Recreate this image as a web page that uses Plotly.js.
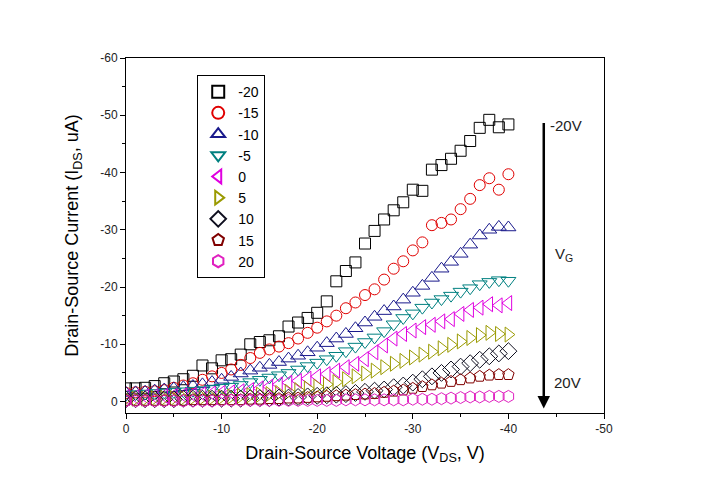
<!DOCTYPE html>
<html><head><meta charset="utf-8">
<script src="https://cdn.plot.ly/plotly-3.0.1.min.js"></script>
<style>html,body{margin:0;padding:0;background:#fff}#chart{width:702px;height:496px}</style>
</head><body><div id="chart"></div>
<script>
const vds = [0,-1,-2,-3,-4,-5,-6,-7,-8,-9,-10,-11,-12,-13,-14,-15,-16,-17,-18,-19,-20,-21,-22,-23,-24,-25,-26,-27,-28,-29,-30,-31,-32,-33,-34,-35,-36,-37,-38,-39,-40];
const gateLabels = ['-20','-15','-10','-5','0','5','10','15','20'];
const idsM20 = [-2.3,-2.3,-2.4,-2.7,-3.2,-3.5,-3.9,-4.5,-6.3,-5.8,-7.2,-7.4,-8.2,-10.0,-10.4,-10.7,-11.4,-13.1,-13.8,-14.6,-15.5,-17.5,-21.0,-22.8,-24.3,-27.6,-29.8,-31.8,-33.4,-34.8,-37.0,-36.8,-40.5,-41.3,-42.4,-43.8,-45.5,-47.8,-49.2,-47.9,-48.4];
const idsM15 = [-1.5,-1.6,-1.7,-1.8,-2.0,-2.4,-2.8,-3.2,-3.8,-4.4,-5.0,-5.6,-6.4,-7.6,-8.5,-9.1,-9.6,-10.2,-11.0,-12.0,-12.9,-14.0,-15.0,-16.3,-17.3,-18.6,-19.6,-21.3,-23.2,-24.5,-26.4,-27.8,-30.8,-31.2,-31.8,-33.6,-35.4,-37.8,-39.0,-37.0,-39.7];
const idsM10 = [-1.5,-1.6,-1.7,-1.9,-2.1,-2.3,-2.5,-2.7,-3.0,-3.4,-3.8,-4.3,-4.9,-5.4,-5.9,-6.4,-6.9,-7.5,-8.0,-8.6,-9.4,-10.2,-11.0,-11.8,-12.8,-13.8,-14.8,-15.8,-16.6,-17.8,-19.0,-20.2,-21.6,-23.2,-24.4,-25.8,-27.4,-29.0,-30.0,-30.5,-30.4];
const idsM5 = [-1.2,-1.3,-1.4,-1.5,-1.6,-1.7,-1.8,-1.9,-2.0,-2.2,-2.4,-2.6,-2.9,-3.4,-3.8,-4.2,-4.6,-5.0,-5.6,-6.2,-6.8,-7.4,-8.0,-8.8,-9.6,-10.4,-11.2,-12.3,-13.5,-14.6,-15.4,-16.4,-17.3,-17.9,-18.5,-19.2,-19.8,-20.5,-20.9,-21.2,-21.1];
const ids0 = [-0.8,-0.8,-0.9,-0.9,-1.0,-1.0,-1.1,-1.2,-1.3,-1.4,-1.5,-1.6,-1.8,-2.0,-2.3,-2.6,-3.0,-3.3,-3.6,-4.0,-4.4,-4.8,-5.4,-6.0,-6.6,-7.4,-8.6,-9.8,-11.0,-11.8,-12.4,-13.0,-13.4,-14.0,-14.4,-15.3,-16.0,-16.4,-17.0,-16.8,-17.2];
const idsP5 = [-0.5,-0.5,-0.5,-0.6,-0.6,-0.6,-0.6,-0.7,-0.7,-0.7,-0.8,-0.9,-1.0,-1.1,-1.2,-1.3,-1.5,-1.7,-2.0,-2.3,-2.6,-3.0,-3.4,-3.9,-4.4,-4.9,-5.4,-6.0,-6.6,-7.1,-7.7,-8.2,-8.7,-9.3,-9.9,-10.5,-11.1,-11.6,-12.0,-11.8,-11.7];
const idsP10 = [-0.4,-0.4,-0.4,-0.4,-0.4,-0.4,-0.5,-0.5,-0.5,-0.5,-0.5,-0.5,-0.5,-0.6,-0.6,-0.6,-0.7,-0.7,-0.8,-0.9,-1.0,-1.1,-1.2,-1.3,-1.5,-1.7,-1.9,-2.1,-2.5,-2.8,-3.3,-3.9,-4.4,-5.0,-5.6,-6.1,-6.7,-7.3,-7.9,-8.4,-8.8];
const idsP15 = [-0.2,-0.2,-0.2,-0.2,-0.2,-0.2,-0.2,-0.3,-0.3,-0.3,-0.3,-0.3,-0.3,-0.4,-0.4,-0.5,-0.5,-0.6,-0.6,-0.7,-0.8,-0.9,-1.0,-1.1,-1.2,-1.3,-1.4,-1.6,-1.8,-2.0,-2.3,-2.6,-2.9,-3.2,-3.5,-3.8,-4.1,-4.4,-4.6,-4.7,-4.7];
const idsP20 = [-0.1,-0.1,-0.1,-0.1,-0.1,-0.1,-0.1,-0.1,-0.1,-0.1,-0.2,-0.2,-0.2,-0.2,-0.2,-0.2,-0.2,-0.2,-0.2,-0.2,-0.2,-0.2,-0.2,-0.3,-0.3,-0.3,-0.3,-0.3,-0.3,-0.3,-0.4,-0.4,-0.4,-0.5,-0.6,-0.7,-0.8,-0.8,-0.9,-0.9,-0.9];
const xTickVals = [0,-10,-20,-30,-40,-50];
const xTickText = ['0','-10','-20','-30','-40','-50'];
const yTickVals = [0,-10,-20,-30,-40,-50,-60];
const yTickText = ['0','-10','-20','-30','-40','-50','-60'];

const seriesY = [idsM20, idsM15, idsM10, idsM5, ids0, idsP5, idsP10, idsP15, idsP20];
const symbols = ['square-open','circle-open','triangle-up-open','triangle-down-open','triangle-left-open','triangle-right-open','diamond-open','pentagon-open','hexagon-open'];
const colors = ['#000000','#e00000','#1a1a8c','#008080','#e000e0','#9a9a00','#101020','#800000','#e020c0'];
const sizes = [11, 11, 13, 13, 13, 13, 13, 12, 12];

const traces = seriesY.map((ys, i) => ({
  x: vds, y: ys, name: gateLabels[i], type: 'scatter', mode: 'markers',
  marker: {symbol: symbols[i], size: sizes[i], color: colors[i], line: {width: 1, color: colors[i]}}
}));

const axisFont = {family: 'Arial, Liberation Sans, sans-serif', size: 12, color: '#222'};
const layout = {
  width: 702, height: 496,
  margin: {l: 126, r: 98, t: 58, b: 83},
  paper_bgcolor: '#fff', plot_bgcolor: '#fff',
  showlegend: true,
  legend: {x: 0.149, y: 0.952, xanchor: 'left', yanchor: 'top', bgcolor: '#fff',
    bordercolor: '#000', borderwidth: 1, itemsizing: 'constant',
    font: {family: 'Arial, Liberation Sans, sans-serif', size: 14, color: '#000'}},
  xaxis: {range: [0, -50], tickvals: xTickVals, ticktext: xTickText, ticks: 'outside', ticklen: 5,
    tickcolor: '#000', showline: true, linecolor: '#000', linewidth: 1, mirror: true,
    showgrid: false, zeroline: false, tickfont: axisFont,
    minor: {dtick: 5, ticks: 'outside', ticklen: 3, tickcolor: '#000', showgrid: false},
    title: {text: 'Drain-Source Voltage (V<sub>DS</sub>, V)', font: {family: 'Arial, Liberation Sans, sans-serif', size: 18, color: '#000'}, standoff: 10}},
  yaxis: {range: [2, -60], tickvals: yTickVals, ticktext: yTickText, ticks: 'outside', ticklen: 5,
    tickcolor: '#000', showline: true, linecolor: '#000', linewidth: 1, mirror: true,
    showgrid: false, zeroline: false, tickfont: axisFont,
    minor: {dtick: 5, ticks: 'outside', ticklen: 3, tickcolor: '#000', showgrid: false},
    title: {text: 'Drain-Source Current (I<sub>DS</sub>, uA)', font: {family: 'Arial, Liberation Sans, sans-serif', size: 18, color: '#000'}, standoff: 16}},
  annotations: [
    {x: -43.7, y: 1.2, ax: -43.7, ay: -48.9, xref: 'x', yref: 'y', axref: 'x', ayref: 'y',
     showarrow: true, arrowhead: 2, arrowsize: 1, arrowwidth: 2.5, arrowcolor: '#000', text: ''},
    {x: -44.1, y: -48.2, xref: 'x', yref: 'y', text: '-20V', showarrow: false, xanchor: 'left',
     font: {family: 'Arial, Liberation Sans, sans-serif', size: 15, color: '#222'}},
    {x: -44.7, y: -25.6, xref: 'x', yref: 'y', text: 'V<sub>G</sub>', showarrow: false, xanchor: 'left',
     font: {family: 'Arial, Liberation Sans, sans-serif', size: 15, color: '#222'}},
    {x: -44.6, y: -3.4, xref: 'x', yref: 'y', text: '20V', showarrow: false, xanchor: 'left',
     font: {family: 'Arial, Liberation Sans, sans-serif', size: 15, color: '#222'}}
  ]
};
Plotly.newPlot('chart', traces, layout, {displayModeBar: false, staticPlot: true});
</script></body></html>
